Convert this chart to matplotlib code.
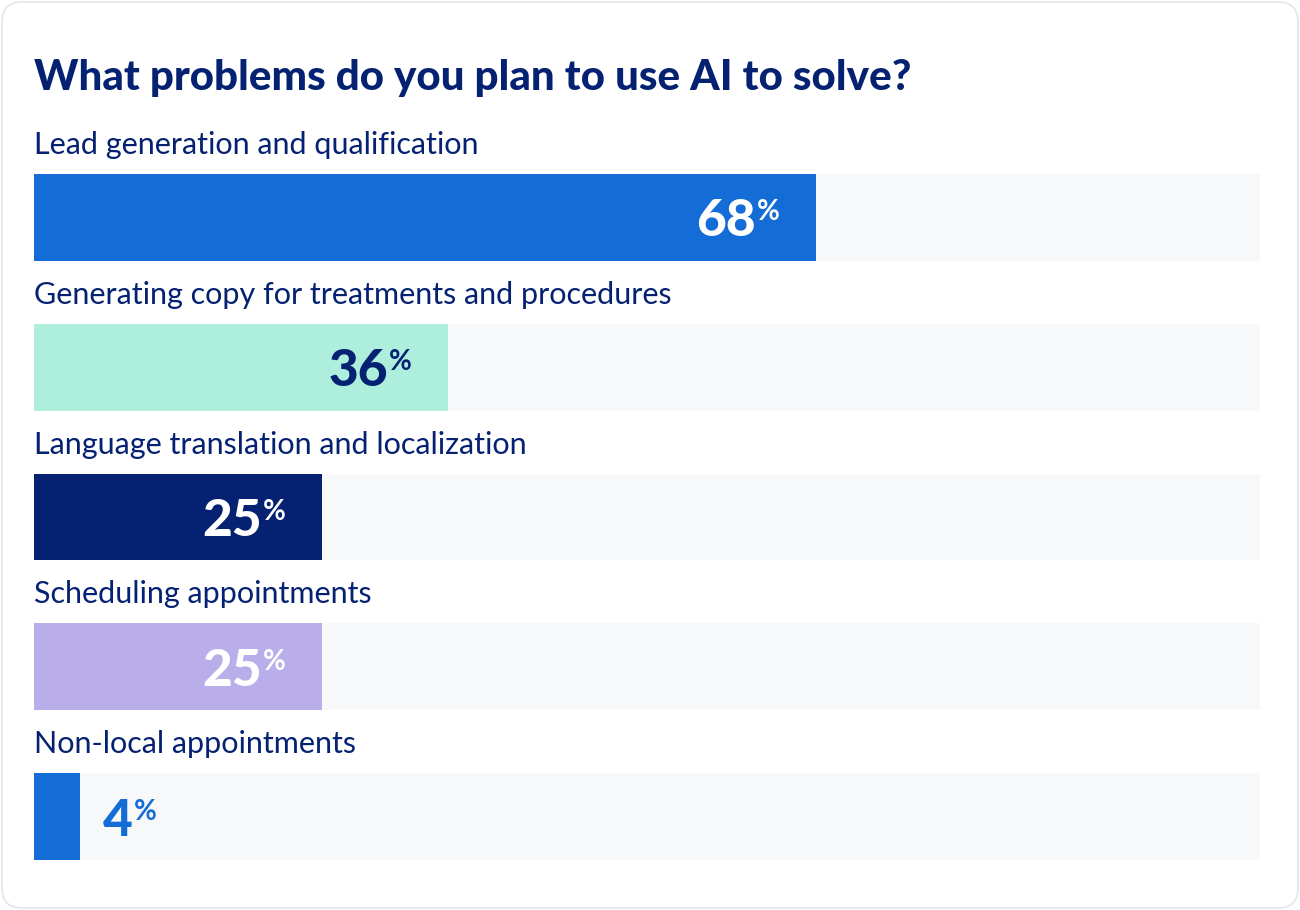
import matplotlib
matplotlib.use('Agg')
import matplotlib.pyplot as plt
from matplotlib.patches import FancyBboxPatch
import numpy as np

# ------------------- data
title = 'What problems do you plan to use AI to solve?'
categories = ['Lead generation and qualification',
              'Generating copy for treatments and procedures',
              'Language translation and localization',
              'Scheduling appointments',
              'Non-local appointments']
values = [68, 36, 25, 25, 4]
bar_colors = ['#146cd6', '#aeeedd', '#052171', '#baaeea', '#146cd6']
text_colors = ['#ffffff', '#052171', '#ffffff', '#ffffff', '#146cd6']

navy = '#052171'
track = '#f7f8fa'
W, H, DPI = 1300, 910, 100

plt.close('all')
fig = plt.figure(figsize=(W / DPI, H / DPI), dpi=DPI)
fig.patch.set_facecolor('white')

# card outline
card = FancyBboxPatch((0.02, 0.02), W / DPI - 0.04, H / DPI - 0.04,
                      boxstyle='round,pad=0,rounding_size=0.2',
                      transform=fig.dpi_scale_trans, facecolor='white',
                      edgecolor='#e3e6ea', linewidth=1.2, zorder=-5)
fig.patches.append(card)

# bar area in pixels: x 34..1260, y 174..860
ax = fig.add_axes([34 / W, 1 - 860 / H, (1260 - 34) / W, (860 - 174) / H])
ax.set_zorder(2)
ax.set_facecolor('none')
bh = 0.58
n = len(values)
y = np.arange(n)
xmax = 1226 / 11.5
ax.barh(y, [xmax] * n, height=bh, color=track, zorder=1)
ax.barh(y, values, height=bh, color=bar_colors, zorder=2)
ax.set_xlim(0, xmax)
ax.set_ylim(n - 1 + bh / 2, -bh / 2)
ax.axis('off')

# category labels above bars
for i, cat in enumerate(categories):
    ax.annotate(cat, (0, i - bh / 2), xytext=(0, 20), textcoords='offset pixels',
                ha='left', va='baseline', fontsize=22, family='Lato', color=navy,
                annotation_clip=False)

# percent labels
renderer = fig.canvas.get_renderer()
for i, v in enumerate(values):
    c = text_colors[i]
    if v > 10:
        pct = ax.annotate('%', (v, i), xytext=(-36, -3), textcoords='offset pixels',
                          ha='right', va='baseline', fontsize=20, fontweight='bold',
                          family='Lato', color=c, zorder=3)
        pw = pct.get_window_extent(renderer).width
        ax.annotate(str(v), (v, i), xytext=(-36 - pw - 1, -19), textcoords='offset pixels',
                    ha='right', va='baseline', fontsize=37, fontweight='black',
                    family='Lato', color=c, zorder=3)
    else:
        num = ax.annotate(str(v), (v, i), xytext=(23, -19), textcoords='offset pixels',
                          ha='left', va='baseline', fontsize=37, fontweight='black',
                          family='Lato', color=c, zorder=3)
        nw = num.get_window_extent(renderer).width
        ax.annotate('%', (v, i), xytext=(23 + nw + 1, -3), textcoords='offset pixels',
                    ha='left', va='baseline', fontsize=20, fontweight='bold',
                    family='Lato', color=c, zorder=3)

fig.text(34 / W, 1 - 90 / H, title, ha='left', va='baseline', fontsize=30.3,
         fontweight='black', family='Lato', color=navy)

plt.savefig('out.png', dpi=DPI)
